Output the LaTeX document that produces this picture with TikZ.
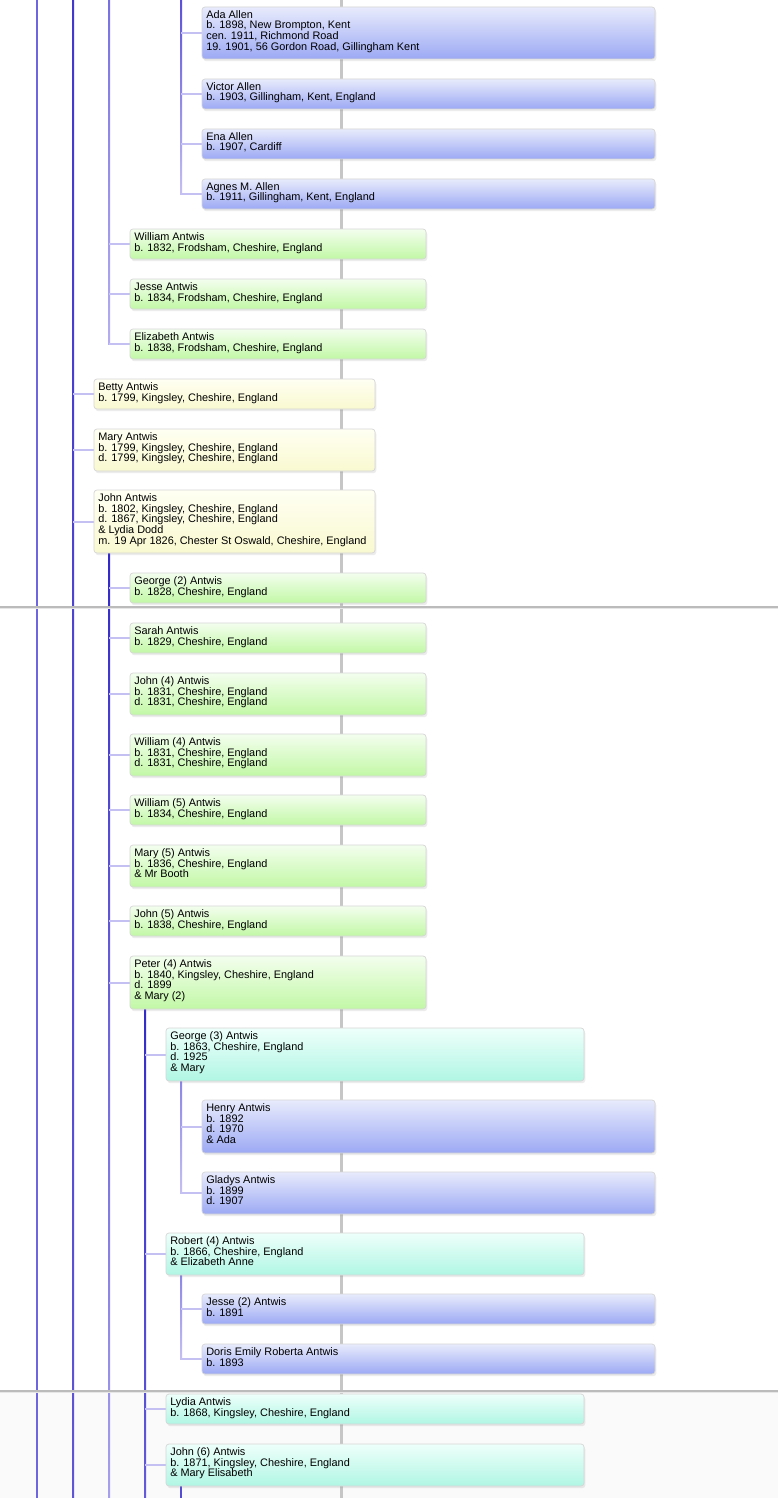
\documentclass[tikz,border=0pt]{standalone}
\usepackage{fontspec}
\setmainfont{Liberation Sans}
\usetikzlibrary{shadows,calc}
\pgfdeclarelayer{back}
\pgfdeclarelayer{bg}
\pgfsetlayers{back,bg,main}

\definecolor{blueTop}{HTML}{E8EBFC}
\definecolor{blueBot}{HTML}{9CA9F4}
\definecolor{greenTop}{HTML}{F3FEEE}
\definecolor{greenBot}{HTML}{C2F8A6}
\definecolor{yelTop}{HTML}{FFFFF3}
\definecolor{yelBot}{HTML}{F9F9D0}
\definecolor{cyanTop}{HTML}{EEFFFB}
\definecolor{cyanBot}{HTML}{B0F6E3}
\definecolor{boxline}{HTML}{D6D6D6}
\definecolor{stubcol}{HTML}{C4C0F2}
\definecolor{gridcol}{HTML}{C6C6C6}
\definecolor{breakcol}{HTML}{BBBBBB}
\definecolor{breaklight}{HTML}{E6E6E6}
\definecolor{txtcol}{HTML}{000000}
% family line colours
\definecolor{lA}{HTML}{6E66DC}
\definecolor{lBt}{HTML}{4238CC}
\definecolor{lBb}{HTML}{5E56D6}
\definecolor{lCt}{HTML}{7870E0}
\definecolor{lCb}{HTML}{B4AEF0}
\definecolor{lDt}{HTML}{3228C8}
\definecolor{lDb}{HTML}{A6A0EC}
\definecolor{lEt}{HTML}{342CC8}
\definecolor{lEb}{HTML}{635BD8}
\definecolor{lFt}{HTML}{5A50D8}
\definecolor{lFb}{HTML}{C4C0F2}
\definecolor{lGt}{HTML}{8C86E6}
\definecolor{lH}{HTML}{544CD2}

\tikzset{
  x=1bp, y=-1bp,
  pbox/.style={rounded corners=3bp, draw=boxline, line width=0.7bp,
    inner sep=0pt, outer sep=0pt,
    drop shadow={opacity=0.15, shadow xshift=1.3bp, shadow yshift=-2.2bp}},
  bluebox/.style={pbox, top color=blueTop, bottom color=blueBot, minimum width=453bp},
  greenbox/.style={pbox, top color=greenTop, bottom color=greenBot, minimum width=296bp},
  yelbox/.style={pbox, top color=yelTop, bottom color=yelBot, minimum width=281bp},
  cyanbox/.style={pbox, top color=cyanTop, bottom color=cyanBot, minimum width=418bp},
  txt/.style={inner sep=0pt, outer sep=0pt, text=txtcol,
    font=\fontsize{10.9bp}{10.8bp}\selectfont},
  stub/.style={draw=stubcol, line width=2bp},
  famline/.style={line width=2bp},
  gridline/.style={draw=gridcol, line width=2.2bp},
}

\newcommand\personbox[6]{%
  \node[#2, minimum height=#5bp, anchor=north west] (#1) at (#3,#4) {};
  \node[txt, anchor=base west] (#1-t) at ([xshift=4.3bp,yshift=-11.2bp]#1.north west)
    {\parbox[t]{440bp}{#6}};}
\newcommand\vlink[4]{%
  \shade[top color=#1, bottom color=#2] ($(#3)+(-1,0)$) rectangle ($(#4)+(1,0)$);}

\begin{document}
\begin{tikzpicture}
\useasboundingbox (0,0) rectangle (778,1498);
\begin{pgfonlayer}{back}
  \fill[white] (0,0) rectangle (778,1498);
  \fill[white!98!black] (0,1392) rectangle (778,1498);
\end{pgfonlayer}

\coordinate (T37) at (37,0);   \coordinate (B37) at (37,1498);
\coordinate (T73) at (73,0);   \coordinate (B73) at (73,1498);
\coordinate (T109) at (109,0); \coordinate (B109) at (109,1498);
\coordinate (T145) at (145,0); \coordinate (B145) at (145,1498);
\coordinate (T181) at (181,0); \coordinate (B181) at (181,1498);
\coordinate (Tg) at (341.5,0); \coordinate (Bg) at (341.5,1498);

% boxes
\personbox{ada}{bluebox}{202}{7}{52}{Ada Allen\\b. 1898, New Brompton, Kent\\cen. 1911, Richmond Road\\19. 1901, 56 Gordon Road, Gillingham Kent}
\personbox{victor}{bluebox}{202}{79}{30}{Victor Allen\\b. 1903, Gillingham, Kent, England}
\personbox{ena}{bluebox}{202}{129}{30}{Ena Allen\\b. 1907, Cardiff}
\personbox{agnes}{bluebox}{202}{179}{30}{Agnes M. Allen\\b. 1911, Gillingham, Kent, England}
\personbox{william}{greenbox}{130}{229}{30}{William Antwis\\b. 1832, Frodsham, Cheshire, England}
\personbox{jesse}{greenbox}{130}{279}{30}{Jesse Antwis\\b. 1834, Frodsham, Cheshire, England}
\personbox{elizabeth}{greenbox}{130}{329}{30}{Elizabeth Antwis\\b. 1838, Frodsham, Cheshire, England}
\personbox{betty}{yelbox}{94}{379}{30}{Betty Antwis\\b. 1799, Kingsley, Cheshire, England}
\personbox{mary}{yelbox}{94}{429}{42}{Mary Antwis\\b. 1799, Kingsley, Cheshire, England\\d. 1799, Kingsley, Cheshire, England}
\personbox{john}{yelbox}{94}{490}{63}{John Antwis\\b. 1802, Kingsley, Cheshire, England\\d. 1867, Kingsley, Cheshire, England\\\& Lydia Dodd\\m. 19 Apr 1826, Chester St Oswald, Cheshire, England}
\personbox{george2}{greenbox}{130}{573}{30}{George (2) Antwis\\b. 1828, Cheshire, England}
\personbox{sarah}{greenbox}{130}{623}{30}{Sarah Antwis\\b. 1829, Cheshire, England}
\personbox{john4}{greenbox}{130}{673}{42}{John (4) Antwis\\b. 1831, Cheshire, England\\d. 1831, Cheshire, England}
\personbox{william4}{greenbox}{130}{734}{42}{William (4) Antwis\\b. 1831, Cheshire, England\\d. 1831, Cheshire, England}
\personbox{william5}{greenbox}{130}{795}{30}{William (5) Antwis\\b. 1834, Cheshire, England}
\personbox{mary5}{greenbox}{130}{845}{42}{Mary (5) Antwis\\b. 1836, Cheshire, England\\\& Mr Booth}
\personbox{john5}{greenbox}{130}{906}{30}{John (5) Antwis\\b. 1838, Cheshire, England}
\personbox{peter4}{greenbox}{130}{956}{53}{Peter (4) Antwis\\b. 1840, Kingsley, Cheshire, England\\d. 1899\\\& Mary (2)}
\personbox{george3}{cyanbox}{166}{1028}{53}{George (3) Antwis\\b. 1863, Cheshire, England\\d. 1925\\\& Mary}
\personbox{henry}{bluebox}{202}{1100}{53}{Henry Antwis\\b. 1892\\d. 1970\\\& Ada}
\personbox{gladys}{bluebox}{202}{1172}{42}{Gladys Antwis\\b. 1899\\d. 1907}
\personbox{robert4}{cyanbox}{166}{1233}{42}{Robert (4) Antwis\\b. 1866, Cheshire, England\\\& Elizabeth Anne}
\personbox{jesse2}{bluebox}{202}{1294}{30}{Jesse (2) Antwis\\b. 1891}
\personbox{doris}{bluebox}{202}{1344}{30}{Doris Emily Roberta Antwis\\b. 1893}
\personbox{lydia}{cyanbox}{166}{1394}{30}{Lydia Antwis\\b. 1868, Kingsley, Cheshire, England}
\personbox{john6}{cyanbox}{166}{1444}{42}{John (6) Antwis\\b. 1871, Kingsley, Cheshire, England\\\& Mary Elisabeth}

\begin{pgfonlayer}{bg}
  % central grey guide
  \draw[gridline] (Tg) -- (Bg);
  % vertical family lines
  \draw[famline, lA] (T37) -- (B37);
  \vlink{lBt}{lBb}{T73}{B73}
  \vlink{lCt}{lCb}{T109}{elizabeth.west -| T109}
  \vlink{lDt}{lDb}{john.south -| T109}{B109}
  \vlink{lEt}{lEb}{peter4.south -| T145}{B145}
  \vlink{lFt}{lFb}{T181}{agnes.west -| T181}
  \vlink{lGt}{lFb}{george3.south -| T181}{gladys.west -| T181}
  \vlink{lGt}{lFb}{robert4.south -| T181}{doris.west -| T181}
  \draw[famline, lH] (john6.south -| T181) -- (B181);
  % stubs
  \foreach \n in {ada,victor,ena,agnes}{\draw[stub] (\n.west -| T181) -- (\n.west);}
  \foreach \n in {william,jesse,elizabeth}{\draw[stub] (\n.west -| T109) -- (\n.west);}
  \foreach \n in {betty,mary,john}{\draw[stub] (\n.west -| T73) -- (\n.west);}
  \foreach \n in {george2,sarah,john4,william4,william5,mary5,john5,peter4}{\draw[stub] (\n.west -| T109) -- (\n.west);}
  \foreach \n in {george3,robert4,lydia,john6}{\draw[stub] (\n.west -| T145) -- (\n.west);}
  \foreach \n in {henry,gladys}{\draw[stub] (\n.west -| T181) -- (\n.west);}
  \foreach \n in {jesse2,doris}{\draw[stub] (\n.west -| T181) -- (\n.west);}
  % page breaks
  \draw[breakcol, line width=2bp] (0,607) -- (778,607);
  \draw[breaklight, line width=1bp] (0,608.5) -- (778,608.5);
  \draw[breakcol, line width=2bp] (0,1391) -- (778,1391);
  \draw[breaklight, line width=1bp] (0,1392.5) -- (778,1392.5);
\end{pgfonlayer}
\end{tikzpicture}
\end{document}
